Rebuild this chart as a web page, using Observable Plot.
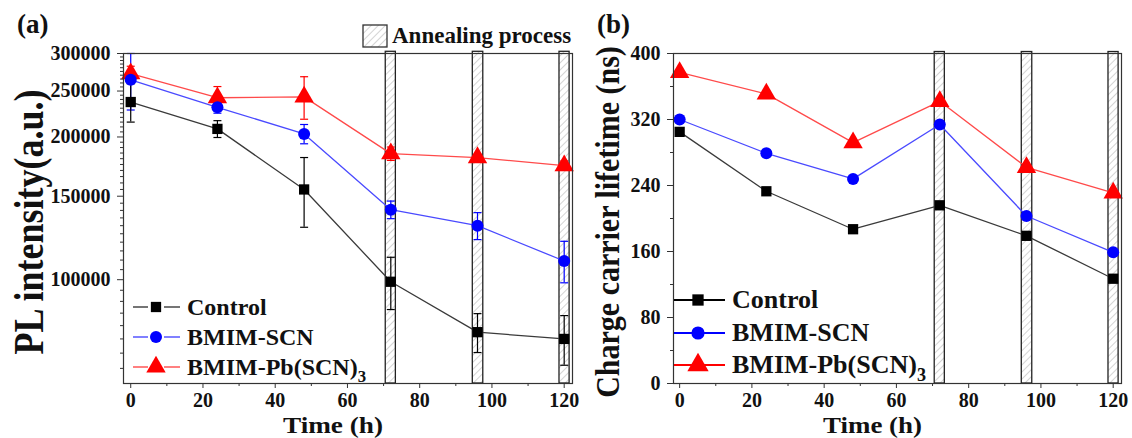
<!DOCTYPE html>
<html><head><meta charset="utf-8">
<script src="https://cdn.jsdelivr.net/npm/d3@7"></script>
<script src="https://cdn.jsdelivr.net/npm/@observablehq/plot@0.6"></script>
<style>
body{margin:0;background:#fff;}
#wrap{position:relative;width:1132px;height:438px;overflow:hidden;background:#fff;}
#wrap > svg{position:absolute;top:0;}
</style></head><body><div id="wrap"></div>
<script>
// ---------- data ----------
const times = [0, 24, 48, 72, 96, 120];
const seriesNames = ["Control", "BMIM-SCN", "BMIM-Pb(SCN)3"];
const plControl = [237000, 208000, 155000, 99000, 77500, 75000];
const plControlErr = [22000, 8500, 26000, 12500, 7300, 9000];
const plSCN = [264000, 231000, 203000, 140500, 130000, 109500];
const plSCNErr = [36000, 6500, 9500, 6000, 8500, 11000];
const plPb = [272000, 242000, 243000, 184500, 181000, 174000];
const plPbErr = [10000, 13500, 25000, 6000, 3000, 4000];
const ltControl = [305, 233, 187, 216, 179, 127];
const ltSCN = [320, 279, 248, 314, 203, 159];
const ltPb = [377, 351, 292, 342, 262, 231];
const annealStart = [70.6, 94.7, 118.7];
const annealEnd = [73.4, 97.6, 121.5];
const plTicks = [100000, 150000, 200000, 250000, 300000];
const plMinorTicks = [65000,70000,75000,80000,85000,90000,95000,105000,110000,115000,120000,125000,130000,135000,140000,145000,155000,160000,165000,170000,175000,180000,185000,190000,195000,205000,210000,215000,220000,225000,230000,235000,240000,245000,255000,260000,265000,270000,275000,280000,285000,290000,295000];
const ltTicks = [0, 80, 160, 240, 320, 400];
const ltMinorTicks = [40, 120, 200, 280, 360];
const timeTicks = [0, 20, 40, 60, 80, 100, 120];
const timeMinorTicks = [10, 30, 50, 70, 90, 110];

// ---------- styles ----------
const markerColors = ["#000000", "#0000ff", "#ff0000"];
const lineColors = ["#3a3a3a", "#4a4aff", "#ff4a4a"];
const symbols = ["square", "circle", "triangle"];
const radii = [5.8, 6, 7.2];
const axisColor = "#333";
const FONT = "'Liberation Serif', 'Times New Roman', serif";

const wrap = document.getElementById("wrap");

// pattern definitions
const defsSvg = d3.select(wrap).append("svg").attr("width", 0).attr("height", 0).style("position", "absolute");
const pat = defsSvg.append("defs").append("pattern")
  .attr("id", "hatch").attr("patternUnits", "userSpaceOnUse")
  .attr("width", 5).attr("height", 5).attr("patternTransform", "rotate(45)");
pat.append("rect").attr("width", 5).attr("height", 5).attr("fill", "#fff");
pat.append("line").attr("x1", 0).attr("y1", 0).attr("x2", 0).attr("y2", 5)
  .attr("stroke", "#b8b8b8").attr("stroke-width", 1.2);

const capSymbol = {draw(ctx, size) { const r = Math.sqrt(size / Math.PI); ctx.moveTo(-r, 0); ctx.lineTo(r, 0); }};

function rowsOf(vals, errs) {
  return times.map((t, i) => ({t, v: vals[i], e: errs ? errs[i] : 0}));
}

function panel({left, width, marginLeft, marginRight, xDomain, yScale, series, errors, yTicks, yMinor, yFmt, barY}) {
  const marks = [];
  const annealRows = annealStart.map((s, i) => ({x1: s, x2: annealEnd[i]}));
  marks.push(Plot.rect(annealRows, {x1: "x1", x2: "x2", y1: barY[0], y2: barY[1], fill: "url(#hatch)", stroke: "#222", strokeWidth: 1.3}));
  const order = [2, 1, 0];
  for (const k of order) {
    marks.push(Plot.line(series[k], {x: "t", y: "v", stroke: lineColors[k], strokeWidth: 1.3}));
  }
  if (errors) {
    for (const k of order) {
      marks.push(Plot.ruleX(series[k], {x: "t", y1: d => d.v - d.e, y2: d => d.v + d.e, stroke: markerColors[k], strokeWidth: 1.2}));
      marks.push(Plot.dot(series[k], {x: "t", y: d => d.v + d.e, symbol: capSymbol, r: 4, stroke: markerColors[k], fill: "none", strokeWidth: 1.2}));
      marks.push(Plot.dot(series[k], {x: "t", y: d => d.v - d.e, symbol: capSymbol, r: 4, stroke: markerColors[k], fill: "none", strokeWidth: 1.2}));
    }
  }
  for (const k of order) {
    marks.push(Plot.dot(series[k], {x: "t", y: "v", symbol: symbols[k], r: radii[k], fill: markerColors[k], stroke: "none"}));
  }
  marks.push(Plot.frame({stroke: axisColor, strokeWidth: 1.2}));
  marks.push(Plot.axisY({ticks: yTicks, tickSize: 6, tickPadding: 7, tickFormat: yFmt, stroke: axisColor, label: null}));
  marks.push(Plot.axisY({ticks: yMinor, tickSize: 3, tickFormat: () => "", stroke: axisColor, label: null}));
  marks.push(Plot.axisX({ticks: timeTicks, tickSize: 5, tickPadding: 4, tickFormat: d3.format("d"), stroke: axisColor, label: null}));
  marks.push(Plot.axisX({ticks: timeMinorTicks, tickSize: 3, tickFormat: () => "", stroke: axisColor, label: null}));
  const chart = Plot.plot({
    width, height: 438,
    marginLeft, marginRight, marginTop: 53, marginBottom: 55,
    x: {domain: xDomain, label: null},
    y: Object.assign({label: null}, yScale),
    style: {fontFamily: FONT, fontSize: "20px", fontWeight: "bold", color: "#111", background: "transparent", overflow: "visible"},
    marks
  });
  chart.style.left = left + "px";
  wrap.appendChild(chart);
}

panel({
  left: 0, width: 580, marginLeft: 123, marginRight: 8,
  xDomain: [-2, 122.3],
  yScale: {type: "log", domain: [60400, 300000]},
  series: [rowsOf(plControl, plControlErr), rowsOf(plSCN, plSCNErr), rowsOf(plPb, plPbErr)],
  errors: true,
  yTicks: plTicks, yMinor: plMinorTicks, yFmt: d3.format("d"),
  barY: [60400, 302500]
});
panel({
  left: 580, width: 552, marginLeft: 93, marginRight: 11,
  xDomain: [-1.7, 122.3],
  yScale: {type: "linear", domain: [0, 400]},
  series: [rowsOf(ltControl), rowsOf(ltSCN), rowsOf(ltPb)],
  errors: false,
  yTicks: ltTicks, yMinor: ltMinorTicks, yFmt: d3.format("d"),
  barY: [0, 401.8]
});

// ---------- overlay: titles, labels, legends ----------
const ov = d3.select(wrap).append("svg").attr("width", 1132).attr("height", 438)
  .style("left", "0px").style("pointer-events", "none")
  .attr("font-family", FONT).attr("font-weight", "bold").attr("fill", "#111");

ov.append("text").attr("x", 17).attr("y", 33).attr("font-size", 27).text("(a)");
ov.append("text").attr("x", 597).attr("y", 33).attr("font-size", 27).text("(b)");

// annealing legend
ov.append("rect").attr("x", 363).attr("y", 25).attr("width", 24).attr("height", 22)
  .attr("fill", "url(#hatch)").attr("stroke", "#333").attr("stroke-width", 1.3);
ov.append("text").attr("x", 392).attr("y", 43).attr("font-size", 23).text("Annealing process");

// axis titles
ov.append("text").attr("transform", "translate(43,222) rotate(-90) scale(1,1.15)").attr("text-anchor", "middle")
  .attr("font-size", 36).text("PL intensity(a.u.)");
ov.append("text").attr("transform", "translate(619,222) rotate(-90) scale(1,1.1)").attr("text-anchor", "middle")
  .attr("font-size", 30).text("Charge carrier lifetime (ns)");
ov.append("text").attr("x", 283).attr("y", 433).attr("font-size", 24)
  .attr("textLength", 100).attr("lengthAdjust", "spacingAndGlyphs").text("Time (h)");
ov.append("text").attr("x", 823).attr("y", 433).attr("font-size", 24)
  .attr("textLength", 99).attr("lengthAdjust", "spacingAndGlyphs").text("Time (h)");

function symPath(k, r) {
  const t = {square: d3.symbolSquare, circle: d3.symbolCircle, triangle: d3.symbolTriangle}[symbols[k]];
  return d3.symbol(t, Math.PI * r * r)();
}
function legendLabel(g, k, x, y, fs) {
  const txt = g.append("text").attr("x", x).attr("y", y).attr("font-size", fs);
  if (seriesNames[k].endsWith("3")) {
    txt.append("tspan").text(seriesNames[k].slice(0, -1));
    txt.append("tspan").attr("dy", fs * 0.3).attr("font-size", fs * 0.7).text("3");
  } else txt.text(seriesNames[k]);
}
// left legend (gapped lines)
const legA = ov.append("g");
[307, 337, 367].forEach((cy, k) => {
  legA.append("line").attr("x1", 133).attr("x2", 148).attr("y1", cy).attr("y2", cy).attr("stroke", lineColors[k]).attr("stroke-width", 1.4);
  legA.append("line").attr("x1", 164).attr("x2", 180).attr("y1", cy).attr("y2", cy).attr("stroke", lineColors[k]).attr("stroke-width", 1.4);
  legA.append("path").attr("transform", `translate(156,${cy})`).attr("d", symPath(k, radii[k])).attr("fill", markerColors[k]);
  legendLabel(legA, k, 187, cy + 8, 24);
});
// right legend (continuous lines)
const legB = ov.append("g");
[300, 333, 365].forEach((cy, k) => {
  legB.append("line").attr("x1", 674).attr("x2", 725).attr("y1", cy).attr("y2", cy).attr("stroke", markerColors[k]).attr("stroke-width", 2);
  legB.append("path").attr("transform", `translate(698,${cy})`).attr("d", symPath(k, radii[k] * 1.1)).attr("fill", markerColors[k]);
  legendLabel(legB, k, 732, cy + 8, 26);
});
</script></body></html>
